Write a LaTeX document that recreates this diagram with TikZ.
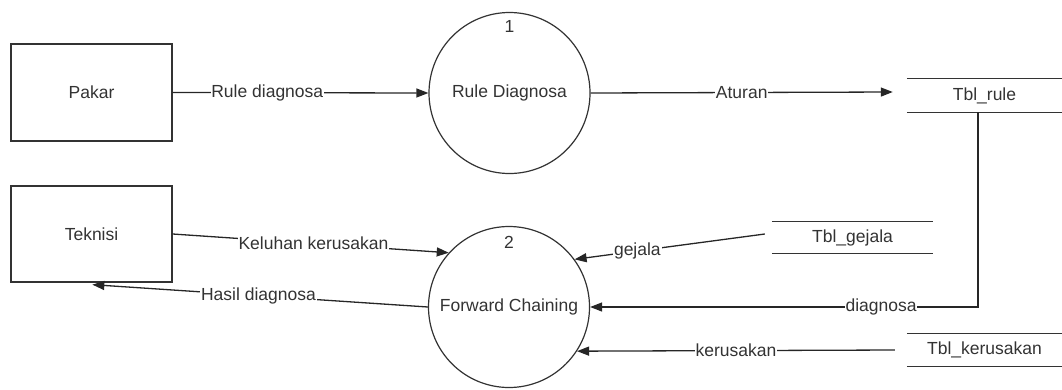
\documentclass[tikz,border=0pt]{standalone}
\usepackage{fontspec}
\setmainfont{Liberation Sans}
\usetikzlibrary{arrows.meta,calc}

\begin{document}
\begin{tikzpicture}[x=1pt,y=-1pt,
  every node/.style={font=\fontsize{17.5}{20}\selectfont, text=black!80},
  entity/.style={draw=black!80, line width=1.3pt, inner sep=0pt,
    minimum width=161pt, minimum height=97pt},
  process/.style={draw=black!80, line width=1.2pt, circle, inner sep=0pt,
    minimum size=161pt},
  store/.style={inner sep=0pt},
  flow/.style={draw=black!85, line width=1.3pt,
    -{Triangle[length=12pt,width=9pt]}},
  flowlabel/.style={fill=white, inner sep=0.8pt},
  storeline/.style={draw=black!80, line width=1.3pt}
]
\useasboundingbox (0,0) rectangle (1062,389);

% external entities
\node[entity] (pakar) at (91.5,92.5) {Pakar};
\node[entity, minimum height=96pt] (teknisi) at (91.5,234) {Teknisi};

% processes
\node[process] (p1) at (509.5,93) {Rule Diagnosa};
\node at ($(p1.center)+(0,-67)$) (n1) {1};
\node[process] (p2) at (509,307) {Forward Chaining};
\node at ($(p2.center)+(0,-65)$) (n2) {2};

% data stores
\node[store, minimum width=155pt, minimum height=33pt] (rule) at (984.5,95.5) {Tbl\_rule};
\node[store, minimum width=161pt, minimum height=31pt] (gejala) at (852.5,237.5) {Tbl\_gejala};
\node[store, minimum width=155pt, minimum height=32pt] (kerusakan) at (984.5,350) {Tbl\_kerusakan};
\foreach \s in {rule,gejala,kerusakan}{
  \draw[storeline] (\s.north west) -- (\s.north east);
  \draw[storeline] (\s.south west) -- (\s.south east);
}

% data flows
\draw[flow] (pakar.east) -- node[flowlabel, pos=0.37] {Rule diagnosa} (p1.west);
\coordinate (ruletip) at ($(rule.west)+(-14,-3.5)$);
\draw[flow] (p1.east) -- node[flowlabel, pos=0.5] {Aturan} (ruletip);
\coordinate (rulefoot) at ($(rule.south)+(-6.5,0)$);
\draw[flow] (rulefoot) |- node[flowlabel, pos=0.625] {diagnosa} (p2.east);
\coordinate (gejalastart) at ($(gejala.west)+(-7,-3.5)$);
\draw[flow] (gejalastart) -- node[flowlabel, pos=0.67] {gejala} (p2.36);
\coordinate (kerstart) at ($(kerusakan.west)+(-12,0)$);
\draw[flow] (kerstart) -- node[flowlabel, pos=0.5] {kerusakan} (p2.-33);
\draw[flow] (teknisi.east) -- node[flowlabel, pos=0.51] {Keluhan kerusakan} (p2.138);
\coordinate (hasiltip) at ($(teknisi.south west)+(82,2)$);
\draw[flow] (p2.west) -- node[flowlabel, pos=0.505] {Hasil diagnosa} (hasiltip);
\end{tikzpicture}
\end{document}
